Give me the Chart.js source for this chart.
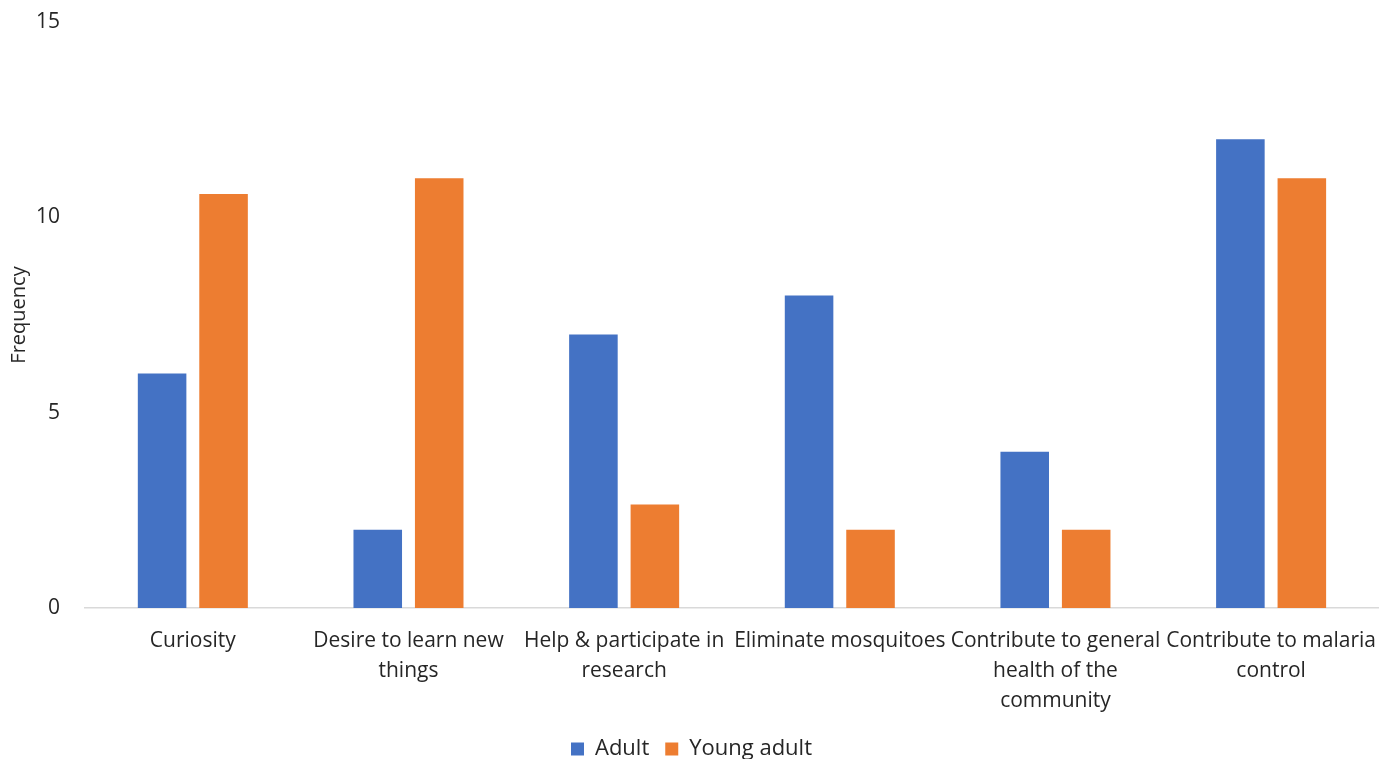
<!DOCTYPE html>
<html>
<head>
<meta charset="utf-8">
<script src="https://cdn.jsdelivr.net/npm/chart.js@4"></script>
<style>
  html, body { margin: 0; padding: 0; background: #fff; }
  #wrap { width: 1395px; height: 759px; position: relative; }
</style>
</head>
<body>
<div id="wrap"><canvas id="graphCanvas"></canvas></div>
<script>
// categories (multi-line labels as in the original)
let categories = [
    "Curiosity",
    ["Desire to learn new", "things"],
    ["Help & participate in", "research"],
    "Eliminate mosquitoes",
    ["Contribute to general", "health of the", "community"],
    ["Contribute to malaria", "control"]
];
let adult_values = [6, 2, 7, 8, 4, 12];
let young_adult_values = [10.6, 11, 2.65, 2, 2, 11];
let y_ticks = [0, 5, 10, 15];

let text_color = "#262626";
let font_family = "'Open Sans', sans-serif";

const ctx = document.getElementById("graphCanvas").getContext("2d");

let chart = new Chart(ctx, {
    type: "bar",
    data: {
        labels: categories,
        datasets: [
            {
                label: "Adult",
                data: adult_values,
                backgroundColor: "#4472C4",
                borderWidth: 0,
                categoryPercentage: 0.57,
                barPercentage: 0.79,
            },
            {
                label: "Young adult",
                data: young_adult_values,
                backgroundColor: "#ED7D31",
                borderWidth: 0,
                categoryPercentage: 0.57,
                barPercentage: 0.79,
            },
        ],
    },
    options: {
        responsive: true,
        maintainAspectRatio: false,
        animation: false,
        layout: {
            padding: { top: 0, right: 12, left: 0, bottom: -11 },
        },
        scales: {
            x: {
                grid: { display: false, drawTicks: false },
                border: { display: true, color: "#d9d9d9", width: 1.5 },
                ticks: {
                    color: text_color,
                    font: { family: font_family, size: 21, lineHeight: 1.42 },
                    maxRotation: 0,
                    autoSkip: false,
                    padding: 18,
                },
                afterFit: (scale) => { scale.height = 114; },
            },
            y: {
                min: 0,
                max: 15,
                grid: { display: false, drawTicks: false },
                border: { display: false },
                afterBuildTicks: (scale) => {
                    scale.ticks = y_ticks.map((v) => ({ value: v }));
                },
                ticks: {
                    color: text_color,
                    font: { family: font_family, size: 21 },
                    padding: 25,
                },
                title: {
                    display: true,
                    text: "Frequency",
                    color: text_color,
                    font: { family: font_family, size: 20 },
                    padding: { top: 7, bottom: 0 },
                },
                afterFit: (scale) => {
                    scale.width = 85;
                    // tick padding is only meant to push labels left, not down from the top
                    scale.paddingTop = 22;
                    scale.paddingBottom = 12;
                },
            },
        },
        plugins: {
            legend: {
                position: "bottom",
                labels: {
                    color: text_color,
                    font: { family: font_family, size: 22 },
                    boxWidth: 13,
                    boxHeight: 13,
                    padding: 16,
                },
            },
            tooltip: { enabled: false },
        },
    },
});
</script>
</body>
</html>
